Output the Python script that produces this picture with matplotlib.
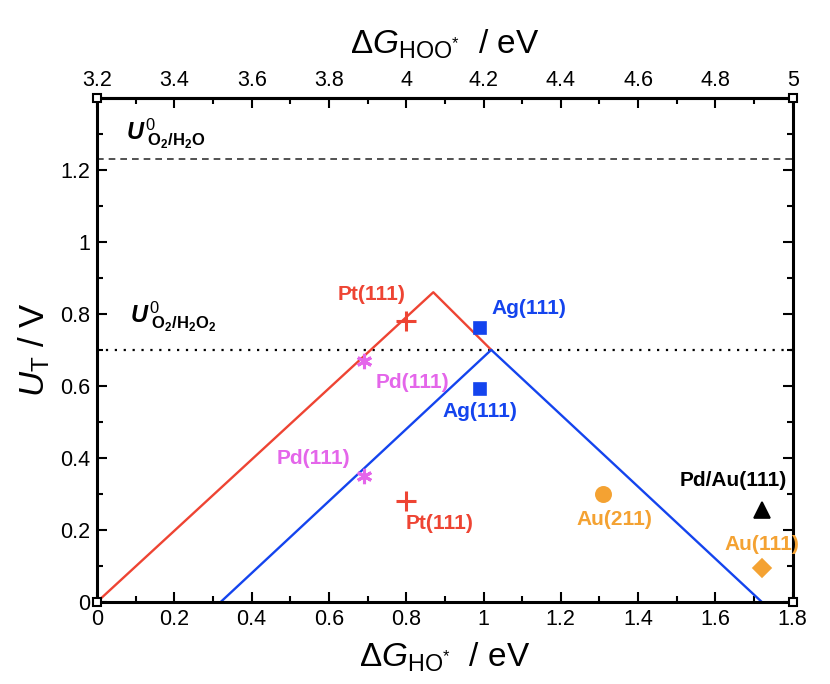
import numpy as np
import matplotlib
matplotlib.use('Agg')
import matplotlib.pyplot as plt

plt.rcParams['font.family'] = 'Liberation Sans'
plt.rcParams['mathtext.fontset'] = 'custom'
plt.rcParams['mathtext.rm'] = 'Liberation Sans'
plt.rcParams['mathtext.it'] = 'Liberation Sans:italic'
plt.rcParams['mathtext.bf'] = 'Liberation Sans:bold'
plt.rcParams['mathtext.bfit'] = 'Liberation Sans:bold:italic'

# volcano lines (vertices)
red_x = [0.0, 0.87, 1.02]
red_y = [0.0, 0.86, 0.70]
blue_x = [0.32, 1.02, 1.72]
blue_y = [0.0, 0.70, 0.0]
u_h2o = 1.23    # O2/H2O equilibrium potential
u_h2o2 = 0.70   # O2/H2O2 equilibrium potential
hoo_shift = 3.2  # dG_HOO* = dG_HO* + 3.2

# catalyst points and where their labels sit
cat_names = ['Pt(111)', 'Pt(111)', 'Pd(111)', 'Pd(111)', 'Ag(111)', 'Ag(111)',
             'Au(211)', 'Pd/Au(111)', 'Au(111)']
cat_x = [0.80, 0.80, 0.69, 0.69, 0.99, 0.99, 1.31, 1.72, 1.72]
cat_y = [0.78, 0.28, 0.67, 0.35, 0.76, 0.59, 0.30, 0.255, 0.095]
lab_x = [0.71, 0.885, 0.815, 0.56, 1.118, 0.99, 1.34, 1.646, 1.72]
lab_y = [0.853, 0.218, 0.61, 0.397, 0.814, 0.53, 0.229, 0.336, 0.16]
cat_marker = ['+', '+', (6, 2, 0), (6, 2, 0), 's', 's', 'o', '^', 'D']
red = '#ee4433'
blue = '#1444ee'
mag = '#e466ea'
orange = '#f4a232'
cat_color = [red, red, mag, mag, blue, blue, orange, 'black', orange]
cat_size = [14, 14, 11, 11, 9, 9, 11, 11, 9]

fig = plt.figure(figsize=(8.3, 6.84), dpi=100)
ax = fig.add_axes([0.117, 0.12, 0.838, 0.737])

ax.axhline(u_h2o, color='#333333', ls=(0, (4, 3)), lw=1.2)
ax.axhline(u_h2o2, color='black', ls=(0, (1, 3)), lw=1.6)
ax.plot(red_x, red_y, color=red, lw=1.7)
ax.plot(blue_x, blue_y, color=blue, lw=1.7)

for i in range(len(cat_names)):
    mew = 2.2 if cat_marker[i] in ('+', (6, 2, 0)) else 1.2
    ax.plot(cat_x[i], cat_y[i], marker=cat_marker[i], color=cat_color[i],
            ms=cat_size[i], mew=mew, ls='none')
    ax.text(lab_x[i], lab_y[i], cat_names[i], color=cat_color[i], fontsize=15,
            fontweight='bold', ha='center', va='center')

ax.text(0.075, 1.285, r'$\mathbfit{U}^{\,\mathit{0}}_{\ \mathbf{O_2/H_2O}}$', fontsize=17)
ax.text(0.085, 0.775, r'$\mathbfit{U}^{\,\mathit{0}}_{\ \mathbf{O_2/H_2O_2}}$', fontsize=17)

ax.set_xlim(0, 1.8)
ax.set_ylim(0, 1.4)
ax.set_xticks(np.arange(0, 1.81, 0.2))
ax.set_xticklabels(['0', '0.2', '0.4', '0.6', '0.8', '1', '1.2', '1.4', '1.6', '1.8'])
ax.set_xticks(np.arange(0, 1.81, 0.1), minor=True)
ax.set_yticks(np.arange(0, 1.21, 0.2))
ax.set_yticklabels(['0', '0.2', '0.4', '0.6', '0.8', '1', '1.2'])
ax.set_yticks(np.arange(0, 1.41, 0.1), minor=True)
ax.tick_params(which='both', direction='in', right=True, labelsize=15.5, width=1.5)
ax.tick_params(which='major', length=7, pad=5)
ax.tick_params(which='minor', length=4)
for s in ax.spines.values():
    s.set_linewidth(2.2)

ax.set_xlabel(r'$\Delta \mathit{G}_{\mathrm{HO}^{*}}$  / eV', fontsize=24, labelpad=8)
ax.set_ylabel(r'$\mathit{U}_{\mathrm{T}}$ / V', fontsize=25, labelpad=6)

top = ax.secondary_xaxis('top', functions=(lambda x: x + hoo_shift, lambda x: x - hoo_shift))
top.set_xticks(np.arange(3.2, 5.01, 0.2))
top.set_xticklabels(['3.2', '3.4', '3.6', '3.8', '4', '4.2', '4.4', '4.6', '4.8', '5'])
top.set_xticks(np.arange(3.2, 5.01, 0.1), minor=True)
top.tick_params(which='both', direction='in', labelsize=15.5, width=1.5)
top.tick_params(which='major', length=7, pad=5)
top.tick_params(which='minor', length=4)
top.spines['top'].set_linewidth(2.2)
top.set_xlabel(r'$\Delta \mathit{G}_{\mathrm{HOO}^{*}}$  / eV', fontsize=24, labelpad=12)

# small square markers at the frame corners
ax.plot([0, 1, 0, 1], [0, 0, 1, 1], transform=ax.transAxes, marker='s', ms=6,
        mfc='white', mec='black', mew=1.5, ls='none', clip_on=False, zorder=5)

fig.savefig('out.png', dpi=100)
